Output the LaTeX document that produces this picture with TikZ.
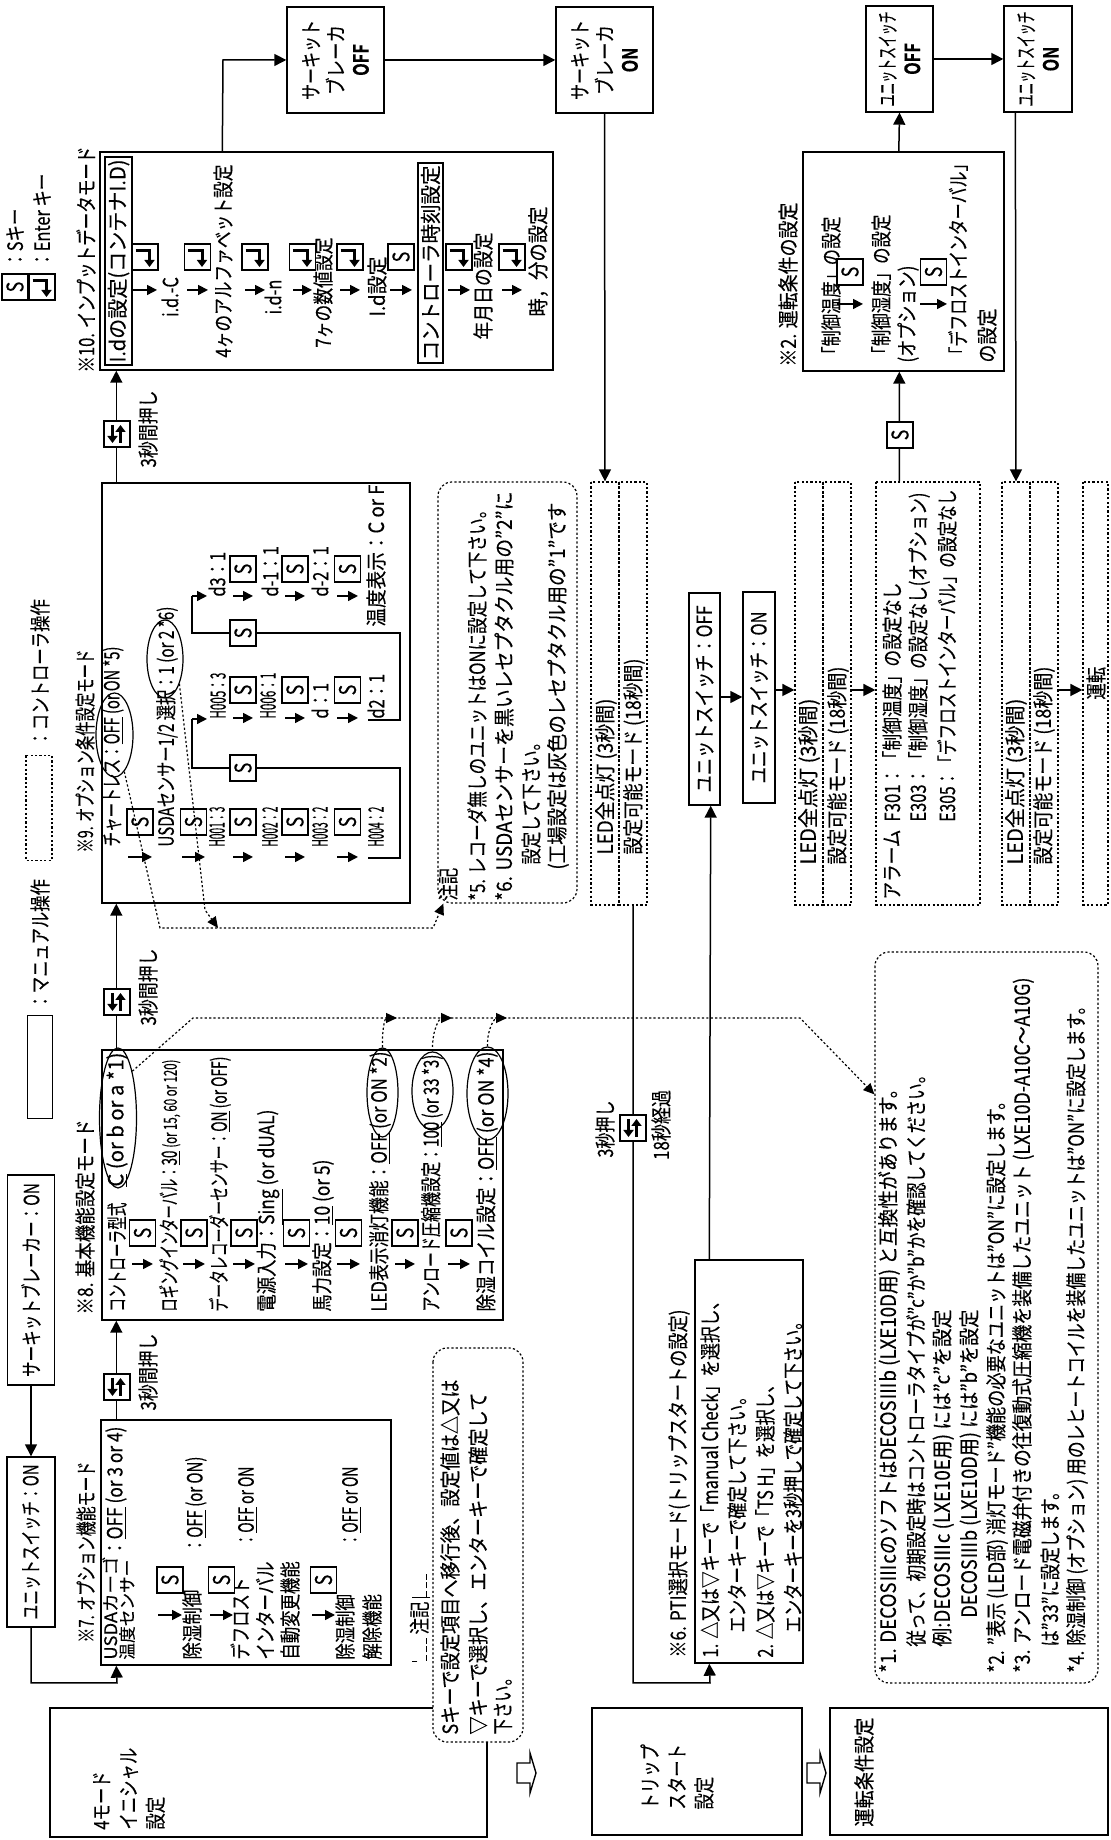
\documentclass[tikz,border=0pt]{standalone}
\usepackage{fontspec}
\setmainfont{Noto Sans CJK JP}[FakeStretch=0.78,FakeBold=0.25,BoldFont={Noto Sans CJK JP Bold}]
\usepackage{graphicx}
\usepackage{tikz}
\usetikzlibrary{arrows.meta,calc,positioning,shapes.geometric}
\newcommand{\fitw}[2]{\resizebox{#1}{\height}{#2}}
\newcommand{\dashrule}{\rule{3pt}{0.7pt}\hspace{1.2pt}\rule{3pt}{0.7pt}\hspace{1.2pt}\rule{3pt}{0.7pt}}

\tikzset{
  conn/.style={line width=0.75pt},
  flow/.style={line width=0.8pt,-{Triangle[length=5pt,width=5pt]}},
  dline/.style={line width=0.6pt,dash pattern=on 1.1pt off 1.1pt},
  dtip/.style={-{Triangle[length=5.5pt,width=5pt]}},
  wh/.style 2 args={minimum width=#1*0.5pt,minimum height=#2*0.5pt},
  box/.style={draw,line width=0.7pt,inner sep=0pt,align=center},
  dbox/.style={draw,line width=0.6pt,dash pattern=on 1.1pt off 1.1pt,inner sep=0pt},
  note/.style={dbox,rounded corners=7pt,fill=white},
  lbl/.style={anchor=west,inner sep=0pt},
  ell/.style={draw,ellipse,line width=0.6pt,inner sep=0pt},
  keybox/.style={draw,fill=white,line width=0.7pt,minimum size=13pt,inner sep=0pt},
  skey/.style={keybox,font=\fontsize{11.5}{11.5}\selectfont},
  keyglyph/.style={line width=1.5pt,-{Triangle[length=3.5pt,width=5pt]}},
  pics/enter/.style={code={
    \node[keybox] (-k) {};
    \draw[keyglyph] (6.5,9.5) -- (6.5,-4.5) -- (-10,-4.5);
  }},
  pics/swap/.style={code={
    \node[keybox] (-k) {};
    \draw[keyglyph] (9,4.5) -- (-9,4.5);
    \draw[keyglyph] (-9,-3.5) -- (9,-3.5);
  }},
}

\begin{document}
\begin{tikzpicture}[x=0.5pt,y=0.5pt,rotate=90,transform shape,
  every node/.style={inner sep=0pt},
  font=\fontsize{10.5}{12}\selectfont,>={Triangle[length=6pt,width=6pt]}]
\useasboundingbox (0,0) rectangle (1840,-1111);

% legend
\node[skey] (lgS) at (1553,-15) {S};
\node[lbl] (lgSt) at (1572,-15) {：Sキー};
\pic (lgE) at (1553,-42) {enter};
\node[lbl] (lgEt) at (1572,-42) {：Enter キー};
\node[box,wh={103}{25}] (lgM) at (773,-40) {};
\node[lbl] (lgMt) at (830,-40) {：マニュアル操作};
\node[dbox,wh={105}{26}] (lgC) at (1032,-39) {};
\node[lbl] (lgCt) at (1093,-40) {：コントローラ操作};

% power on
\node[box,wh={210}{47}] (cbk) at (560,-31) {\fitw{97pt}{サーキットブレーカー：ON}};
\node[box,wh={170}{48}] (usw1) at (298,-31) {\fitw{77.5pt}{ユニットスイッチ：ON}};
\draw[conn,->] (cbk.west) -- (usw1.east);

% 4 mode initial
\node[box,wh={129}{437}] (m4) at (67.5,-268.5) {};
\node[lbl,align=left,font=\fontsize{10.5}{13.5}\selectfont] (m4t) at (10,-129) {4モード\\イニシャル\\設定};

% option function mode
\node[box,wh={245}{290}] (b7) at (297.5,-246) {};
\node[lbl] (t7) at (197,-86) {\fitw{90.5pt}{※7. オプション機能モード}};
\node[lbl,font=\fontsize{8.6}{9}\selectfont] (b7a) at (180,-110) {\fitw{51.5pt}{USDAカーゴ}};
\node[lbl] (b7a2) at (283,-116) {\fitw{65pt}{：\underline{OFF} (or 3 or 4)}};
\node[lbl,font=\fontsize{8.6}{9}\selectfont] (b7b) at (180,-127) {\fitw{50pt}{温度センサー}};
\node[lbl] (b7c) at (180,-192) {\fitw{35pt}{除湿制御}};
\node[lbl] (b7c2) at (287,-196) {\fitw{48pt}{：\underline{OFF} (or ON)}};
\node[lbl] (b7d) at (180,-240) {デフロスト};
\node[lbl] (b7e) at (180,-265) {インターバル};
\node[lbl] (b7f) at (180,-290) {自動変更機能};
\node[lbl] (b7f2) at (293,-248) {\fitw{40pt}{：\underline{OFF} or ON}};
\node[lbl] (b7g) at (180,-345) {除湿制御};
\node[lbl] (b7h) at (180,-372) {解除機能};
\node[lbl] (b7h2) at (293,-352) {\fitw{40pt}{：\underline{OFF} or ON}};
\foreach \ya/\yb/\n in {158/182/1,210/233/2,312/335/3}{
  \draw[flow] (225,-\ya) -- (225,-\yb);
  \node[skey] (s7\n) at (260,{-(\ya+\yb)/2}) {S};
}

% basic function mode
\node[box,wh={270}{401}] (b8) at (655,-302.5) {};
\node[lbl] (t8) at (525,-85) {\fitw{97.5pt}{※8. 基本機能設定モード}};
\node[lbl] (b8a) at (528,-117) {\fitw{54.5pt}{コントローラ型式}};
\node[lbl] (b8a2) at (653,-117) {\fitw{67pt}{\underline{C} (or b or a *1)}};
\node[lbl] (b8b) at (528,-170) {\fitw{126pt}{ロギングインターバル：\underline{30} {\small(or 15, 60 or 120)}}};
\node[lbl] (b8c) at (528,-220) {\fitw{127.5pt}{データレコーダーセンサー：\underline{ON} (or OFF)}};
\node[lbl] (b8d) at (528,-270) {\fitw{101pt}{電源入力：\underline{Sing} (or dUAL)}};
\node[lbl] (b8e) at (528,-323) {\fitw{76pt}{馬力設定：\underline{10} (or 5)}};
\node[lbl] (b8f) at (528,-380) {\fitw{130pt}{LED表示消灯機能：\underline{OFF} (or ON *2)}};
\node[lbl] (b8g) at (528,-432) {\fitw{128.5pt}{アンロード圧縮機設定：\underline{100} (or 33 *3)}};
\node[lbl] (b8h) at (528,-487) {\fitw{130pt}{除湿コイル設定：\underline{OFF} (or ON *4)}};
\node[ell,wh={140}{37}] (e1) at (722,-118) {};
\node[ell,wh={89}{31}] (e2) at (747.5,-382.5) {};
\node[ell,wh={78}{41}] (e3) at (749,-432.5) {};
\node[ell,wh={93}{41}] (e4) at (746.5,-487.5) {};
\foreach \ya/\yb/\n in {132/153/1,183/205/2,233/255/3,285/308/4,337/360/5,395/415/6,448/470/7}{
  \draw[flow] (576,-\ya) -- (576,-\yb);
  \node[skey] (s8\n) at (607,{-(\ya+\yb)/2}) {S};
}

% option condition mode
\node[box,wh={420}{308}] (b9) at (1147,-256) {};
\node[lbl] (t9) at (987,-85) {\fitw{101.5pt}{※9. オプション条件設定モード}};
\node[lbl] (b9a) at (993,-113) {\fitw{100pt}{チャートレス：\underline{OFF} (or ON *5)}};
\node[lbl] (b9b) at (993,-167) {\fitw{120pt}{USDAセンサー1/2 選択：1 (or 2 *6)}};
\node[ell,wh={84}{37}] (e5) at (1105,-114.5) {};
\node[ell,wh={78}{36}] (e6) at (1181,-165) {};
\node[lbl] (h001) at (993,-217) {\fitw{20pt}{H001：3}};
\node[lbl] (h002) at (993,-270) {\fitw{20pt}{H002：2}};
\node[lbl] (h003) at (993,-320) {\fitw{20pt}{H003：2}};
\node[lbl] (h004) at (993,-376) {\fitw{20pt}{H004：2}};
\node[lbl] (h005) at (1121,-218) {\fitw{23pt}{H005：3}};
\node[lbl] (h006) at (1121,-268) {\fitw{23pt}{H006：1}};
\node[lbl] (dd0) at (1121,-320) {d：1};
\node[lbl] (dd2) at (1121,-376) {d2：1};
\node[lbl] (dd3) at (1243,-217) {d3：1};
\node[lbl] (dm1) at (1243,-270) {d-1：1};
\node[lbl] (dm2) at (1243,-320) {d-2：1};
\node[lbl] (tmp) at (1213,-376) {\fitw{71pt}{温度表示：C or F}};
\foreach \ya/\yb/\n in {128/152/1,182/205/2,233/253/3,285/305/4,337/358/5}{
  \draw[flow] (983,-\ya) -- (983,-\yb);
  \node[skey] (s9a\n) at (1018,{-(\ya+\yb)/2}) {S};
}
\foreach \ya/\yb/\n in {233/253/1,285/305/2,337/358/3}{
  \draw[flow] (1122,-\ya) -- (1122,-\yb);
  \node[skey] (s9b\n) at (1150,{-(\ya+\yb)/2}) {S};
  \draw[flow] (1244,-\ya) -- (1244,-\yb);
  \node[skey] (s9c\n) at (1271,{-(\ya+\yb)/2}) {S};
}
\draw[conn] (982,-368) -- (982,-400) -- (1072,-400) -- (1072,-192) -- (1121,-192);
\draw[flow] (1121,-192) -- (1121,-207);
\node[skey] (s9j1) at (1072,-243) {S};
\draw[conn] (1120,-368) -- (1120,-400) -- (1207,-400) -- (1207,-192) -- (1244,-192);
\draw[flow] (1244,-192) -- (1244,-207);
\node[skey] (s9j2) at (1207,-243) {S};

% input data mode
\node[box,wh={218}{453}] (b10) at (1579,-326.5) {};
\node[lbl] (t10) at (1467,-86) {\fitw{113pt}{※10. インプットデータモード}};
\node[box,wh={208}{27}] (idb) at (1579,-118.5) {\fitw{101.5pt}{I.dの設定(コンテナI.D)}};
\node (idc) at (1543,-170) {i.d.-C};
\node[lbl] (ida) at (1482,-223) {\fitw{96.5pt}{4ヶのアルファベット設定}};
\node (idn) at (1543,-273) {i.d-n};
\node[lbl] (idv) at (1492,-323) {\fitw{55pt}{7ヶの数値設定}};
\node[lbl] (ids) at (1523,-377) {\fitw{30pt}{I.d設定}};
\node[box,wh={200}{25}] (ctb) at (1577,-430.5) {\fitw{97.5pt}{コントローラ時刻設定}};
\node[lbl] (ymd) at (1500,-483) {\fitw{53.5pt}{年月日の設定}};
\node[lbl] (hm) at (1523,-538) {\fitw{55pt}{時，分の設定}};
\foreach \ya/\yb/\n in {133/157/1,187/208/2,245/265/3,293/312/4,340/360/5,448/470/6,502/522/7}{
  \draw[flow] (1550,-\ya) -- (1550,-\yb);
  \pic (en\n) at (1583,{-(\ya+\yb)/2}) {enter};
}
\draw[flow] (1550,-390) -- (1550,-412);
\node[skey] (s10) at (1583,-401) {S};

% mode changes
\draw[conn,->] (usw1.west) -- (157,-31) -- (157,-117) -- ($(b7.north west)+(0,-16)$);
\draw[conn,->] ($(b7.north east)+(0,-16)$) -- ($(b8.north west)+(0,-15)$);
\draw[conn,->] ($(b8.north east)+(0,-15)$) -- ($(b9.north west)+(0,-15)$);
\draw[conn,->] ($(b9.north east)+(0,-15)$) -- ($(b10.north west)+(0,-17)$);
\pic (k78) at (453,-117) {swap};
\node (k78t) at (468,-148) {\fitw{38.5pt}{3秒間押し}};
\pic (k89) at (838,-117) {swap};
\node (k89t) at (853,-148) {\fitw{38.5pt}{3秒間押し}};
\pic (k910) at (1406,-117) {swap};
\node (k910t) at (1411,-148) {\fitw{38.5pt}{3秒間押し}};

% circuit breaker
\node[box,wh={106}{97},font=\fontsize{10.5}{12.5}\selectfont] (cbOFF) at (1780,-335.5) {\fitw{40pt}{サーキット}\\\fitw{35pt}{ブレーカ}\\\textbf{OFF}};
\node[box,wh={106}{97},font=\fontsize{10.5}{12.5}\selectfont] (cbON) at (1780,-604.5) {\fitw{40pt}{サーキット}\\\fitw{35pt}{ブレーカ}\\\textbf{ON}};
\draw[conn,->] ($(b10.north east)+(0,-123)$) -- (1780,-223) -- (cbOFF.north);
\draw[conn,->] (cbOFF.south) -- (cbON.north);

% LED groups
\foreach \n/\y in {1/605,2/809,3/1016}{
  \node[dbox,wh={423}{28}] (ledA\n) at (1146.5,-\y) {};
  \node[dbox,wh={423}{28}] (ledB\n) at (1146.5,-\y-28) {};
}
\node[lbl] (ledA1t) at (985,-606) {\fitw{78pt}{LED全点灯 (3秒間)}};
\node[lbl] (ledB1t) at (985,-634) {\fitw{98pt}{設定可能モード (18秒間)}};
\node[lbl] (ledA2t) at (975,-809) {\fitw{83pt}{LED全点灯 (3秒間)}};
\node[lbl] (ledB2t) at (975,-838) {\fitw{99pt}{設定可能モード (18秒間)}};
\node[lbl] (ledA3t) at (975,-1016) {\fitw{83pt}{LED全点灯 (3秒間)}};
\node[lbl] (ledB3t) at (975,-1044) {\fitw{99pt}{設定可能モード (18秒間)}};
\draw[conn,->] (cbON.west) -- (ledA1.east);

% trip start
\node[box,wh={403}{108}] (pti) at (378.5,-749) {};
\node[lbl] (t6) at (182,-679) {\fitw{174pt}{※6. PTI選択モード(トリップスタートの設定)}};
\node[lbl] (pti1) at (182,-710) {\fitw{182.5pt}{1. △又は▽キーで「manual Check」を選択し、}};
\node[lbl] (pti2) at (207,-737) {エンターキーで確定して下さい。};
\node[lbl] (pti3) at (182,-765) {2. △又は▽キーで「TS H」を選択し、};
\node[lbl] (pti4) at (207,-793) {エンターキーを3秒押しで確定して下さい。};
\draw[conn,->] (ledB1.west) -- (157,-633) -- (157,-710) -- ($(pti.north west)+(0,-15)$);
\pic (k6) at (712,-633) {swap};
\node (k6a) at (711,-605) {\fitw{28.5pt}{3秒押し}};
\node (k6b) at (715,-661) {\fitw{35pt}{18秒経過}};

\node[box,wh={212}{31}] (usw2) at (1141,-704.5) {\fitw{93.5pt}{ユニットスイッチ：OFF}};
\node[box,wh={211}{32}] (usw3) at (1142.5,-759) {\fitw{86pt}{ユニットスイッチ：ON}};
\draw[conn,->] ($(pti.north east)+(0,-15)$) -- ($(usw2.south west)+(0,10)$);
\draw[conn,->] ($(usw2.south)+(2,0)$) -- ($(usw3.north)+(0.5,0)$);
\draw[conn,->] ($(usw3.south)+(7.5,0)$) -- ($(ledA2.north)+(3.5,0)$);

% alarms
\node[dbox,wh={423}{104}] (alm) at (1146.5,-928) {};
\node[lbl] (alm0) at (940,-892) {\fitw{35pt}{アラーム}};
\node[lbl] (alm1) at (1018,-892) {\fitw{119.5pt}{F301：「制御温度」の設定なし}};
\node[lbl] (alm2) at (1018,-919) {\fitw{164.5pt}{E303：「制御湿度」の設定なし(オプション)}};
\node[lbl] (alm3) at (1018,-947) {\fitw{166pt}{E305：「デフロストインターバル」の設定なし}};
\draw[conn,->] ($(ledB2.south)+(3.5,0)$) -- ($(alm.north)+(3.5,0)$);

% operating condition
\node[box,wh={219}{201}] (b2) at (1578.5,-903.5) {};
\node[lbl] (t2) at (1473,-788) {\fitw{82pt}{※2. 運転条件の設定}};
\node[lbl] (b2a) at (1477,-831) {\fitw{73pt}{「制御温度」の設定}};
\node[lbl] (b2b) at (1477,-881) {\fitw{74pt}{「制御湿度」の設定}};
\node[lbl] (b2c) at (1477,-908) {\fitw{48.5pt}{(オプション)}};
\node[lbl] (b2d) at (1477,-958) {\fitw{103.5pt}{「デフロストインターバル」}};
\node[lbl] (b2e) at (1477,-987) {\fitw{27pt}{の設定}};
\foreach \ya/\yb/\n in {837/863/1,920/947/2}{
  \draw[flow] (1536,-\ya) -- (1536,-\yb);
  \node[skey] (s2\n) at (1568,{-(\ya+\yb)/2}) {S};
}
\draw[conn,->] ($(alm.north east)+(0,-24)$) -- ($(b2.north west)+(0,-97)$);
\node[skey] (s2c) at (1405,-900) {S};

\node[box,wh={106}{67},font=\fontsize{10.5}{12.5}\selectfont] (usw4) at (1781,-899.5) {\fitw{47.5pt}{ユニットスイッチ}\\\textbf{OFF}};
\node[box,wh={106}{68},font=\fontsize{10.5}{12.5}\selectfont] (usw5) at (1781,-1038) {\fitw{47.5pt}{ユニットスイッチ}\\\textbf{ON}};
\draw[conn,->] ($(b2.north east)+(0,-96.5)$) -- (usw4.west);
\draw[conn,->] (usw4.south) -- (usw5.north);
\draw[conn,->] ($(usw5.north west)+(0,-12)$) -- (ledA3.east);

\node[dbox,wh={423}{25}] (unt) at (1146.5,-1095.5) {};
\node[lbl] (untt) at (1140,-1096) {運転};
\draw[conn,->] ($(ledB3.south)+(3.5,0)$) -- ($(unt.north)+(3.5,0)$);

% notes
\node[note,wh={394}{90}] (n7) at (295,-478) {};
\node (n7t) at (222,-420) {\raisebox{5pt}{\rule{0.7pt}{2.5pt}}\dashrule\,注記\,\rule[-1.5pt]{0.7pt}{9pt}\dashrule};
\node[lbl] (n7a) at (105,-450) {\fitw{177.5pt}{Sキーで設定項目へ移行後、設定値は△又は}};
\node[lbl] (n7b) at (105,-478) {\fitw{171pt}{▽キーで選択し、エンターキーで確定して}};
\node[lbl] (n7c) at (105,-503) {下さい。};

\node[note,wh={421}{139}] (n56) at (1147.5,-507.5) {};
\node[lbl] (n56a) at (939,-448) {注記};
\node[lbl] (n56b) at (939,-477) {\fitw{199.5pt}{*5. レコーダ無しのユニットはONに設定して下さい。}};
\node[lbl] (n56c) at (939,-504) {\fitw{204.5pt}{*6. USDAセンサーを黒いレセプタクル用の"2"に}};
\node[lbl] (n56d) at (975,-531) {設定して下さい。};
\node[lbl] (n56e) at (970,-558) {\fitw{183.5pt}{(工場設定は灰色のレセプタクル用の"1"です}};

\node[note,wh={731}{223}] (n1) at (522.5,-986.5) {};
\node[lbl] (n1a) at (167,-889) {\fitw{296.5pt}{*1. DECOSⅢcのソフトはDECOSⅢb (LXE10D用) と互換性があります。}};
\node[lbl] (n1b) at (193,-916) {\fitw{290pt}{従って、初期設定時はコントローラタイプが"c"か"b"かを確認してください。}};
\node[lbl] (n1c) at (193,-943) {\fitw{168.5pt}{例:DECOSⅢc (LXE10E用) には"c"を設定}};
\node[lbl] (n1d) at (222,-970) {\fitw{154pt}{DECOSⅢb (LXE10D用) には"b"を設定}};
\node[lbl] (n1e) at (167,-997) {\fitw{290pt}{*2. "表示 (LED部) 消灯モード"機能の必要なユニットは"ON"に設定します。}};
\node[lbl] (n1f) at (167,-1023) {\fitw{347.5pt}{*3. アンロード電磁弁付きの往復動式圧縮機を装備したユニット (LXE10D-A10C～A10G)}};
\node[lbl] (n1g) at (193,-1050) {は"33"に設定します。};
\node[lbl] (n1h) at (167,-1077) {\fitw{337.5pt}{*4. 除湿制御 (オプション) 用のレヒートコイルを装備したユニットは"ON"に設定します。}};

% footnote links
\draw[dline,dtip] (e1.-17) -- (822,-193) -- (822,-800) -- ($(n1.north east)+(-143,0)$);
\draw[dline,dtip] (e2.east) .. controls (812,-382) and (822,-385) .. (822,-397);
\draw[dline,dtip] (e3.east) .. controls (812,-432) and (822,-440) .. (822,-452);
\draw[dline,dtip] (e4.east) .. controls (812,-487) and (822,-495) .. (822,-507);
\draw[dline,dtip] (e5.-165) -- (912,-160) -- (912,-433) -- ($(n56.north west)+(0,-6)$);
\draw[dline,dtip] (e6.-150) -- (930,-205) -- (912,-218);

% stages
\node[box,wh={127}{210}] (trp) at (68.5,-697) {};
\node[lbl,align=left,font=\fontsize{10.5}{13.5}\selectfont] (trpt) at (30,-677) {トリップ\\スタート\\設定};
\node[box,wh={127}{278}] (unj) at (68.5,-969) {};
\node[lbl] (unjt) at (13,-864) {\fitw{54.5pt}{運転条件設定}};
\draw[line width=0.7pt] (57,-517) -- (77,-517) -- (77,-530) -- (87,-530) -- (67,-536) -- (47,-530) -- (57,-530) -- cycle;
\draw[line width=0.7pt] (57,-807) -- (77,-807) -- (77,-820) -- (87,-820) -- (67,-826) -- (47,-820) -- (57,-820) -- cycle;
\end{tikzpicture}
\end{document}
